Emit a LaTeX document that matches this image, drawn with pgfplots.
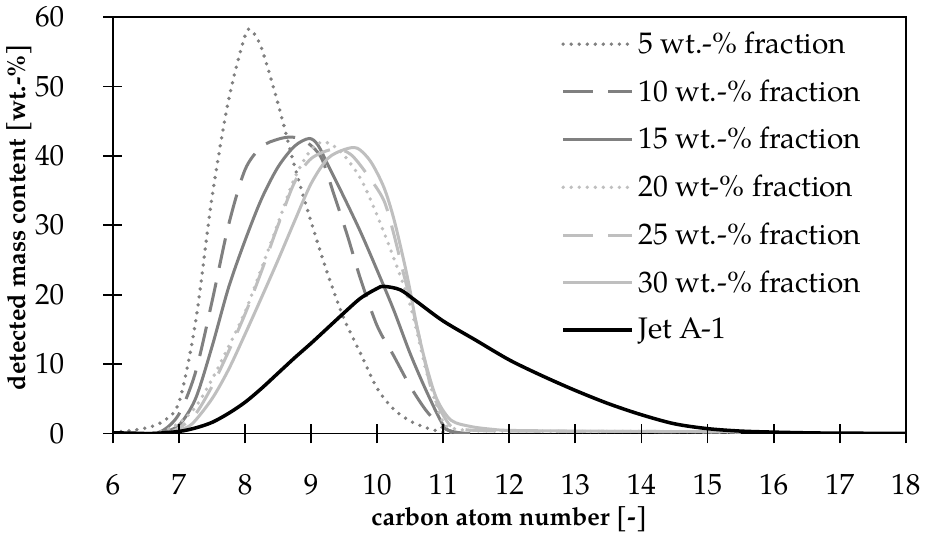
\documentclass[border=0pt]{standalone}
\usepackage{fontspec}
\setmainfont{TeX Gyre Pagella}
\usepackage{pgfplots}
\usepackage{pgfplotstable}
\pgfplotsset{compat=1.18}

\definecolor{darkg}{RGB}{128,128,128}
\definecolor{lightg}{RGB}{191,191,191}

% 5 wt.-% fraction
\pgfplotstableread{
x y
6.0 0.2
6.25 0.4
6.5 0.8
6.75 1.7
7.0 4.5
7.25 16
7.5 34
7.75 48
8.0 57.3
8.1 58
8.25 55.5
8.5 47.5
8.75 38.5
9.0 30.5
9.25 23
9.5 16.5
9.75 11.5
10.0 6.5
10.25 3.5
10.5 1.8
10.75 0.8
11.0 0.2
11.25 0
}\fracA

% 10 wt.-% fraction
\pgfplotstableread{
x y
6.0 0
6.5 0
6.75 0.4
7.0 2.8
7.25 8.8
7.5 19
7.75 30
8.0 38
8.25 41.3
8.5 42.4
8.7 42.7
8.9 42.2
9.15 39.8
9.35 34.3
9.55 28.5
9.75 22.2
10.0 15.5
10.25 11.2
10.5 6.8
10.75 3.2
11.0 0.8
11.25 0.1
11.5 0
}\fracB

% 15 wt.-% fraction
\pgfplotstableread{
x y
6.0 0
6.5 0
6.75 0.2
7.0 1.2
7.25 5
7.5 12.5
7.75 21
8.0 27.8
8.25 33.8
8.5 38.4
8.75 41.4
8.97 42.5
9.1 41.6
9.25 38.8
9.5 34
9.75 29
10.0 23.5
10.25 17.8
10.5 11.5
10.75 6
11.0 1.2
11.15 0.2
11.4 0
}\fracC

% 20 wt-% fraction
\pgfplotstableread{
x y
6.0 0
6.5 0
6.75 0.3
7.0 1.5
7.25 3.8
7.5 7.8
7.75 12.5
8.0 17.5
8.25 23.8
8.5 30.3
8.75 36.8
9.0 40.9
9.2 42
9.45 40.6
9.75 36.7
10.0 31.4
10.25 25.3
10.5 18.5
10.75 8.8
11.0 1.6
11.25 0.6
11.5 0.4
12 0.35
13 0.3
14 0.3
15 0.25
15.5 0.2
}\fracD

% 25 wt.-% fraction
\pgfplotstableread{
x y
6.0 0
6.75 0
7.0 0.8
7.25 2.8
7.5 6.8
7.75 11.8
8.0 17.2
8.25 23.4
8.5 30
8.75 36.2
9.0 39.6
9.35 41
9.6 40.2
9.85 37.3
10.1 33.6
10.25 28.8
10.4 23
10.55 17.5
10.7 11.3
10.85 5.5
11.1 1.2
11.3 0.6
11.6 0.4
12 0.35
13 0.3
14 0.3
15 0.25
15.5 0.2
}\fracE

% 30 wt.-% fraction
\pgfplotstableread{
x y
6.0 0
6.75 0
7.0 0.5
7.2 1.4
7.5 5
7.75 9.2
8.0 14.3
8.25 19.6
8.5 25
8.75 30.6
9.0 36
9.25 39.6
9.5 40.9
9.7 41.1
9.9 39.2
10.1 35.5
10.25 31
10.41 24.6
10.5 20.5
10.61 15
10.76 9.2
10.91 4.8
11.12 1.9
11.42 1.0
11.75 0.6
12 0.45
13 0.35
14 0.3
15 0.25
15.5 0.2
}\fracF

% Jet A-1
\pgfplotstableread{
x y
6.0 0.1
6.3 0.05
6.6 0
7.0 0.3
7.25 0.8
7.5 1.6
7.75 2.9
8.0 4.5
8.25 6.5
8.5 8.7
8.75 10.9
9.0 13
9.25 15.2
9.5 17.4
9.75 19.5
10.0 20.9
10.1 21.2
10.35 20.7
10.6 19.0
11.0 16.2
11.5 13.4
12.0 10.6
12.5 8.3
13.0 6.2
13.5 4.3
14.0 2.7
14.5 1.4
15.0 0.7
15.5 0.35
16.0 0.2
16.5 0.1
17.0 0.05
18.0 0.02
}\jet

\begin{document}
\begin{tikzpicture}
\begin{axis}[
    scale only axis,
    width=395pt, height=207.5pt,
    xmin=6, xmax=18, ymin=0, ymax=60,
    xtick={6,7,...,18}, ytick={0,10,...,60},
    xtick pos=bottom, ytick pos=left,
    tick align=center, major tick length=9.5pt,
    axis line style={line width=0.9pt, black},
    major tick style={black, line width=0.9pt},
    clip mode=individual,
    /pgf/number format/assume math mode=true,
    tick label style={font=\fontsize{14.5}{16}\selectfont},
    xticklabel style={yshift=-12pt},
    yticklabel style={xshift=-16pt},
    label style={font=\fontsize{12.5}{14}\selectfont\bfseries},
    xlabel={carbon atom number [-]},
    ylabel={detected mass content [wt.-\%]},
    xlabel style={at={(axis description cs:0.5,-0.205)}, anchor=center},
    ylabel style={at={(axis description cs:-0.118,0.52)}, anchor=center},
    legend cell align=left,
    legend style={at={(axis description cs:0.565,0.975)}, anchor=north west,
        draw=none, fill=none, inner sep=0pt,
        font=\fontsize{14.8}{16}\selectfont, row sep=7.5pt},
    legend image code/.code={\draw[#1] (0pt,0pt) -- (34.5pt,0pt);},
    every axis plot/.append style={smooth},
]
\addplot[darkg, line width=1.9pt, line cap=round, dash pattern=on 0pt off 4pt] table {\fracA};
\addlegendentry{5 wt.-\% fraction}
\addplot[darkg, line width=1.5pt, dash pattern=on 15pt off 7.5pt] table {\fracB};
\addlegendentry{10 wt.-\% fraction}
\addplot[darkg, line width=1.5pt] table {\fracC};
\addlegendentry{15 wt.-\% fraction}
\addplot[lightg, line width=1.9pt, line cap=round, dash pattern=on 0pt off 4pt] table {\fracD};
\addlegendentry{20 wt-\% fraction}
\addplot[lightg, line width=1.5pt, dash pattern=on 15pt off 7.5pt] table {\fracE};
\addlegendentry{25 wt.-\% fraction}
\addplot[lightg, line width=1.5pt] table {\fracF};
\addlegendentry{30 wt.-\% fraction}
\addplot[black, line width=1.75pt] table {\jet};
\addlegendentry{Jet A-1}
% tick marks crossing the axis lines
\pgfplotsinvokeforeach{6,...,18}{
  \draw[black, line width=0.9pt] ([yshift=-4.75pt]axis cs:#1,0) -- ([yshift=4.75pt]axis cs:#1,0);
}
\pgfplotsinvokeforeach{0,10,...,60}{
  \draw[black, line width=0.9pt] ([xshift=-4.75pt]axis cs:6,#1) -- ([xshift=4.75pt]axis cs:6,#1);
}
\end{axis}
\end{tikzpicture}
\end{document}
